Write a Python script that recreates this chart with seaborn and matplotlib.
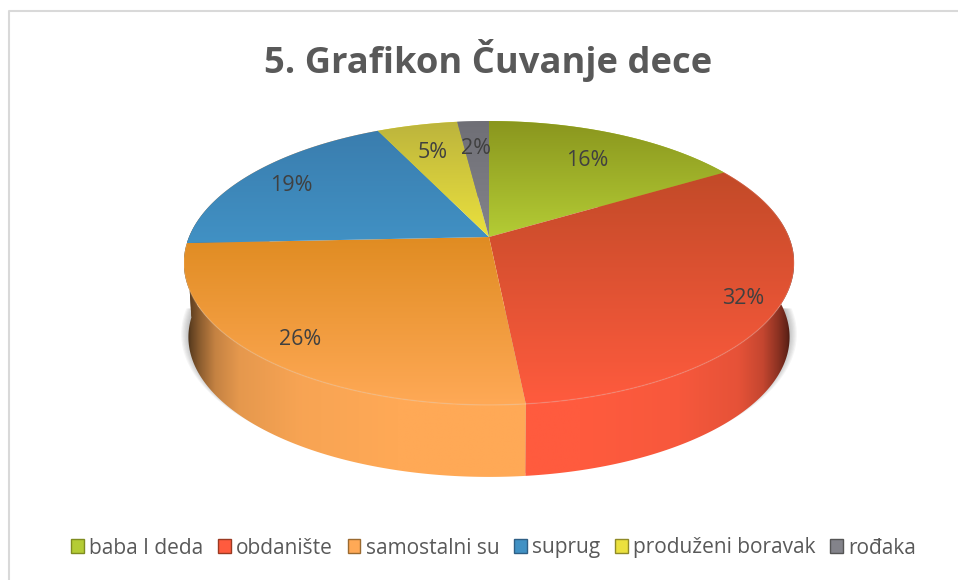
import numpy as np
import matplotlib
matplotlib.use("Agg")
import matplotlib.pyplot as plt
import seaborn as sns
from matplotlib.colors import to_rgb
from matplotlib.lines import Line2D
from matplotlib.patches import Patch, PathPatch
from matplotlib.path import Path

# ================================================================
# DATA
# ================================================================
title = "5. Grafikon Čuvanje dece"
categories = ["baba I deda", "obdanište", "samostalni su", "suprug", "produženi boravak", "rođaka"]
shares = [16.4, 32.0, 25.9, 18.6, 5.1, 2.0]

light_colors = ["#B4CC35", "#FF5B3E", "#FFA956", "#4191C4", "#EBE13E", "#83838A"]
dark_colors = ["#8A961E", "#C24A28", "#E08C22", "#3A7DAE", "#BCB43C", "#6F6F76"]
rim_colors = ["#B4CC35", "#FF5B3E", "#FFA956", "#FFA956", "#EBE13E", "#83838A"]
legend_edges = ["#7F8C20", "#9A3A22", "#9A6A30", "#2F5F85", "#8F8A28", "#555555"]
label_radius = [0.74, 0.88, 0.85, 0.83, 0.75, 0.76]

# ================================================================
# LAYOUT (pixels of the 958x580 picture)
# ================================================================
CX, CY = 489, 237
RX, RY = 300, 137.2
PERSP = 0.183
BASE_SCALE, BASE_DROP = 0.985, 74.5
LABEL_DROP = 3


def project(theta, base=False):
    x, y = np.cos(np.radians(theta)), np.sin(np.radians(theta))
    d = 1 + PERSP * y
    s = BASE_SCALE if base else 1.0
    return CX + s * RX * x / d, CY + (BASE_DROP if base else 0) - s * RY * y / d


def side_shade(xs):
    d = np.abs(xs - CX) / 305
    return np.interp(d, [0, 0.3, 0.62, 0.82, 0.9, 0.95, 0.98, 1.0],
                     [1, 1, 0.97, 0.9, 0.77, 0.55, 0.38, 0.15])


def fill_gradient(ax, verts, rgb):
    patch = PathPatch(Path(np.vstack([verts, verts[0]]), closed=True), fc="none", ec="none")
    ax.add_patch(patch)
    xs, ys = verts[:, 0], verts[:, 1]
    extent = (xs.min(), xs.max(), ys.max(), ys.min())
    im = ax.imshow(rgb, extent=extent, aspect="auto", interpolation="bilinear", zorder=patch.get_zorder())
    im.set_clip_path(patch)


# ================================================================
# FIGURE
# ================================================================
sns.set_theme(style="white")
plt.rcParams["font.family"] = ["Open Sans", "DejaVu Sans"]

fig = plt.figure(figsize=(9.58, 5.8), dpi=100)
ax = fig.add_axes([0, 0, 1, 1])

palette = sns.color_palette(light_colors)
wedges, _ = ax.pie(shares, colors=palette, startangle=90, counterclock=False)
for w in wedges:
    w.set_visible(False)

# soft shadow beside the disc
ring = np.linspace(180, 360, 200)
for grow in np.linspace(1.0, 1.024, 7):
    sx, sy = project(ring, base=True)
    sx = CX + (sx - CX) * grow
    ax.fill(sx, sy - 3, color="#555555", alpha=0.06, lw=0, zorder=1)

# rim of the disc
for w, c in zip(wedges, rim_colors):
    t = np.linspace(w.theta1, w.theta2, 160)
    tx, ty = project(t)
    bx, by = project(t, base=True)
    verts = np.column_stack([np.r_[tx, bx[::-1]], np.r_[ty, by[::-1]]])
    xs = np.linspace(verts[:, 0].min(), verts[:, 0].max(), 256)
    rgb = np.clip(np.array(to_rgb(c))[None, None, :] * side_shade(xs)[None, :, None], 0, 1)
    fill_gradient(ax, verts, rgb)

# top face of the disc
for w, lo, hi in zip(wedges, dark_colors, light_colors):
    t = np.linspace(w.theta1, w.theta2, 160)
    tx, ty = project(t)
    verts = np.column_stack([np.r_[CX, tx], np.r_[CY, ty]])
    ramp = np.linspace(0, 1, 256)[:, None, None]
    top, bottom = np.array(to_rgb(lo)), np.array(to_rgb(hi))
    fill_gradient(ax, verts, top + (bottom - top) * ramp)
    if np.sin(np.radians(t)).mean() < 0:
        ax.plot(tx, ty, color="white", alpha=0.15, lw=1, zorder=2)

# percentage labels
for w, share, r in zip(wedges, shares, label_radius):
    mid = np.radians((w.theta1 + w.theta2) / 2)
    x, y = r * np.cos(mid), r * np.sin(mid)
    d = 1 + PERSP * y
    ax.text(CX + RX * x / d, CY + LABEL_DROP - RY * y / d, f"{share:.0f}%", color="#404040",
            fontsize=15.5, ha="center", va="center", zorder=5)

ax.set_xlim(0, 958)
ax.set_ylim(580, 0)
ax.set_aspect("auto")
ax.axis("off")

fig.text(488.5 / 958, 1 - 60 / 580, title, color="#595959", fontsize=26.2, fontweight="bold",
         ha="center", va="center")

handles = [Patch(facecolor=c, edgecolor=e, linewidth=1) for c, e in zip(light_colors, legend_edges)]
fig.legend(handles, categories, ncol=6, loc="center", bbox_to_anchor=(493.5 / 958, 1 - 548 / 580),
           frameon=False, fontsize=15, labelcolor="#595959", handlelength=0.62, handleheight=0.62,
           handletextpad=0.25, columnspacing=0.7)

# chart border shows only on the top and left in the source crop
fig.add_artist(Line2D([9 / 958, 9 / 958, 1], [0, 1 - 11 / 580, 1 - 11 / 580], color="#D9D9D9", lw=1.5))

fig.savefig("out.png", dpi=100)
